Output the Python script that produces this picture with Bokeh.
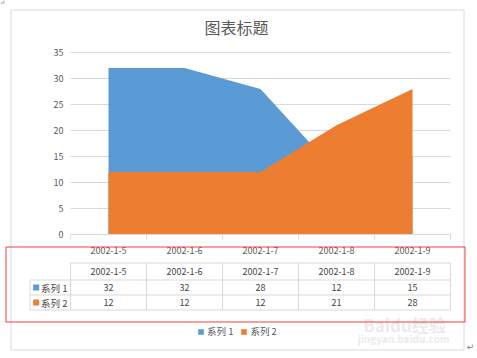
from bokeh.plotting import figure
from bokeh.models import (Range1d, ColumnDataSource, Label, LinearAxis,
                          BoxAnnotation, Legend, LegendItem, FixedTicker)
from bokeh.core.properties import value
from bokeh.embed import file_html
from bokeh.resources import INLINE

# ---- data ----
dates = ["2002-1-5", "2002-1-6", "2002-1-7", "2002-1-8", "2002-1-9"]
series1 = [32, 32, 28, 12, 15]
series2 = [12, 12, 12, 21, 28]
series_names = ["系列 1", "系列 2"]
y_ticks = [0, 5, 10, 15, 20, 25, 30, 35]
title_text = "图表标题"

# ---- style ----
FONT = "Noto Sans CJK SC"
BLUE = "#5B9BD5"
ORANGE = "#ED7D31"
GRID = "#D9D9D9"
TEXT = "#595959"
TABLE_TEXT = "#464646"
RED = "#F23F3F"

W, H = 477, 358
# pixel layout of the plot area (layout constants only)
PL, CAT_W = 70.0, 76.0      # left edge of first category, px per category
PB, PX_PER_UNIT = 234.0, 5.2  # pixel row of value 0, px per value unit


def X(px):
    return (px - PL) / CAT_W


def Y(py):
    return (PB - py) / PX_PER_UNIT


n = len(dates)
centers = [i + 0.5 for i in range(n)]
edges = list(range(n + 1))

p = figure(width=W, height=H,
           x_range=Range1d(X(0), X(W)), y_range=Range1d(Y(H), Y(0)),
           output_backend="svg", toolbar_location=None,
           min_border=0, min_border_left=0, min_border_right=0,
           min_border_top=0, min_border_bottom=0,
           x_axis_type=None, y_axis_type=None)
p.outline_line_color = None
p.xgrid.visible = False
p.ygrid.visible = False
p.background_fill_color = "white"
p.border_fill_color = "white"

# gridlines over the plot area
p.segment(x0=0, x1=n, y0=y_ticks[1:], y1=y_ticks[1:], line_color=GRID, line_width=1)

# y axis
yax = LinearAxis(fixed_location=0, bounds=(y_ticks[0], y_ticks[-1]),
                 ticker=FixedTicker(ticks=y_ticks))
yax.axis_line_color = None
yax.major_tick_line_color = None
yax.minor_tick_line_color = None
yax.major_tick_out = 0
yax.major_tick_in = 0
yax.major_label_standoff = 7
yax.major_label_text_font = FONT
yax.major_label_text_font_size = "9px"
yax.major_label_text_color = TEXT
p.add_layout(yax, "left")

# x (category) axis
xax = LinearAxis(fixed_location=0, bounds=(0, n),
                 ticker=FixedTicker(ticks=centers, minor_ticks=edges),
                 major_label_overrides={c: d for c, d in zip(centers, dates)})
xax.axis_line_color = GRID
xax.major_tick_line_color = None
xax.major_tick_out = 0
xax.major_tick_in = 0
xax.minor_tick_line_color = GRID
xax.minor_tick_out = 5
xax.minor_tick_in = 0
xax.major_label_standoff = 7
xax.major_label_text_font = FONT
xax.major_label_text_font_size = "9px"
xax.major_label_text_color = TEXT
p.add_layout(xax, "below")

# areas
src = ColumnDataSource(dict(x=centers, s1=series1, s2=series2))
r1 = p.varea(x="x", y1=0, y2="s1", source=src, fill_color=BLUE)
r2 = p.varea(x="x", y1=0, y2="s2", source=src, fill_color=ORANGE)

# title
p.add_layout(Label(x=X(236), y=Y(26.5), text=title_text, text_align="center",
                   text_baseline="middle", text_font=FONT, text_font_size="16px",
                   text_color=TEXT))

# data table grid
t_top, r1_top, r2_top, t_bot = 262.5, 279.5, 294.5, 309.5
lab_left = 29.5
hx0, hy0, hx1, hy1 = [], [], [], []
for py, left in [(t_top, PL), (r1_top, lab_left), (r2_top, lab_left), (t_bot, lab_left)]:
    hx0.append(X(left)); hx1.append(n); hy0.append(Y(py)); hy1.append(Y(py))
hx0.append(X(lab_left)); hx1.append(X(lab_left)); hy0.append(Y(r1_top)); hy1.append(Y(t_bot))
for e in edges:
    hx0.append(e); hx1.append(e); hy0.append(Y(t_top)); hy1.append(Y(t_bot))
p.segment(x0=hx0, y0=hy0, x1=hx1, y1=hy1, line_color=GRID, line_width=1)

# table texts
rows = [(dates, (t_top + r1_top) / 2),
        ([str(v) for v in series1], (r1_top + r2_top) / 2),
        ([str(v) for v in series2], (r2_top + t_bot) / 2)]
for texts, py in rows:
    p.text(x=centers, y=[Y(py)] * n, text=texts, text_align="center",
           text_baseline="middle", text_font=value(FONT),
           text_font_size=value("9px"), text_color=TABLE_TEXT)

# table row keys
key_y = [Y((r1_top + r2_top) / 2), Y((r2_top + t_bot) / 2)]
p.rect(x=[X(35.7)] * 2, y=key_y, width=6, height=6, width_units="screen",
       height_units="screen", fill_color=[BLUE, ORANGE], line_color=None)
p.text(x=[X(40.5)] * 2, y=key_y, text=series_names, text_align="left",
       text_baseline="middle", text_font=value(FONT), text_font_size=value("9.5px"),
       text_color=TABLE_TEXT)

# bottom legend
leg = Legend(items=[LegendItem(label=series_names[0], renderers=[r1]),
                    LegendItem(label=series_names[1], renderers=[r2])],
             location=(197, H - 338), orientation="horizontal",
             glyph_width=7, glyph_height=7, label_height=10, label_standoff=3,
             spacing=7, padding=0, margin=0, border_line_color=None,
             background_fill_alpha=0, label_text_font=FONT,
             label_text_font_size="9.5px", label_text_color=TEXT)
p.add_layout(leg)

# chart border and red highlight box
p.add_layout(BoxAnnotation(left=X(10.5), right=X(463.5), top=Y(9.5), bottom=Y(349.5),
                           fill_alpha=0, line_color=GRID, line_alpha=1, line_width=1))
p.add_layout(BoxAnnotation(left=X(5.5), right=X(464.5), top=Y(246.5), bottom=Y(321.5),
                           fill_alpha=0, line_color=RED, line_alpha=1, line_width=1))

# watermark and page marks
p.text(x=[X(404)], y=[Y(324)], text=["Baidu经验"], text_align="center",
       text_baseline="middle", text_font=value(FONT), text_font_size=value("17px"),
       text_font_style="bold", text_color="#E6E6E6", text_alpha=0.8)
p.text(x=[X(403)], y=[Y(338)], text=["jingyan.baidu.com"], text_align="center",
       text_baseline="middle", text_font=value(FONT), text_font_size=value("10px"),
       text_font_style="bold", text_color="#E6E6E6", text_alpha=0.8)
p.text(x=[X(470)], y=[Y(346)], text=["↵"], text_align="center",
       text_baseline="middle", text_font=value("DejaVu Sans"),
       text_font_size=value("9px"), text_color="#808080")
p.segment(x0=[X(0), X(3.5)], y0=[Y(2.5), Y(0)], x1=[X(3.5), X(3.5)], y1=[Y(2.5), Y(2.5)],
          line_color="#A0A0A0", line_width=1)

open("out.html", "w").write(file_html(p, INLINE))
